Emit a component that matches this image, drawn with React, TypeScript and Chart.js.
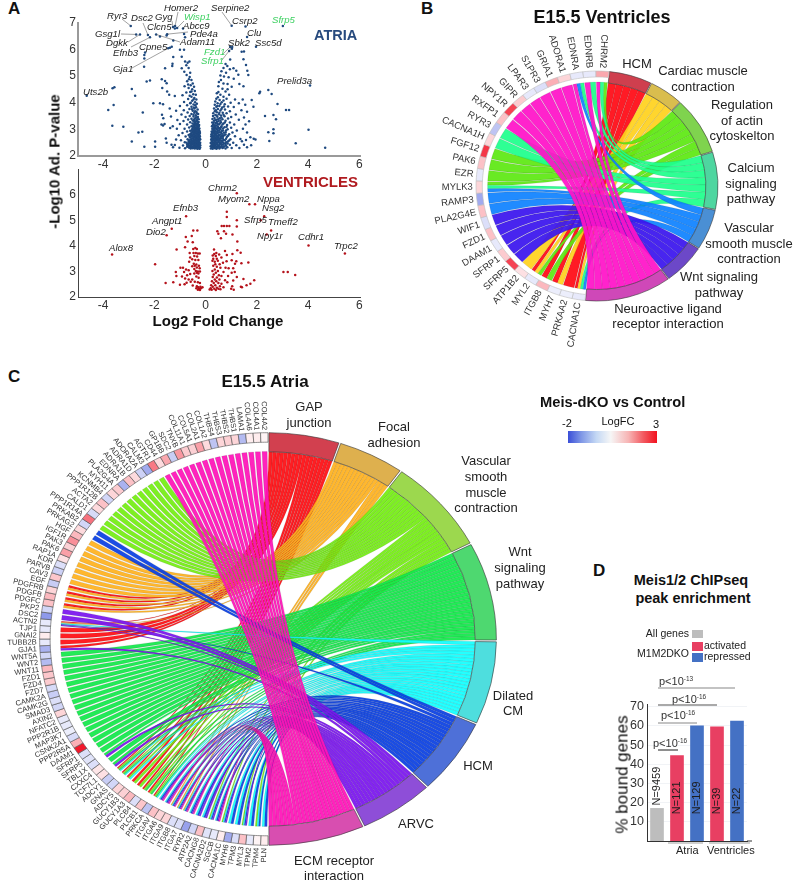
import React, { useEffect, useRef } from 'react';
import { Chart, registerables } from 'chart.js';
Chart.register(...registerables);

type P = [number, number];
const FONT = '"Liberation Sans", Arial, sans-serif';

// ---------- Panel A data ----------
const volcanoXTicks = [-4, -2, 0, 2, 4, 6];
const atriaYTicks = [2, 3, 4, 5, 6, 7];
const ventricleYTicks = [2, 3, 4, 5, 6];

const atriaFarLeft: P[] = [[-3.56,4.58],[-3.63,4.54],[-2.88,4.51],[-2.75,4.26],[-3.59,3.91],[-3.8,3.73],[-3.64,3.13],[-3.21,3.1],[-2.88,2.54],[-2.62,2.88],[-2.47,2.91],[-2.39,2.35],[-1.97,2.35],[-1.97,2.54],[-2.45,3.63],[-2.04,3.98],[-1.78,3.98],[-2.4,5.35],[-2.3,4.79],[-2.17,4.83],[-1.71,4.88],[-1.58,4.81],[-1.52,4.73],[-1.58,5.29],[-1.3,5.38],[-2.39,5.79],[-2.39,5.66],[-2.36,5.88],[-1.78,6.48],[-1.39,6.06],[-1.26,6.33],[-0.84,6.58],[-0.8,6.45],[-1.52,6.52],[-1.0,5.99],[-0.84,5.99],[-1.26,5.71],[-1.29,5.46],[-1.69,4.55],[-1.5,4.42],[-1.42,4.3],[-1.2,4.25],[-1.66,3.94],[-1.7,3.55],[-1.65,3.42],[-1.6,3.2],[-1.72,3.18],[-1.66,3.14],[-1.55,2.66],[-1.52,2.5],[-1.33,2.42],[-1.27,2.33],[-1.2,2.41],[-1.38,3.05],[-1.28,3.12],[-1.35,3.48],[-1.4,3.78],[-1.15,3.7],[-1.1,3.35],[-1.12,3.02],[-1.05,2.78],[-1.15,2.62]];
const atriaFan: P[] = [[-0.93,5.72],[-0.8,5.54],[-0.63,5.54],[-0.93,5.29],[-0.83,5.16],[-0.74,5.04],[-0.7,5.5],[-0.66,5.3],[-0.6,5.12],[-0.75,5.4],[-0.62,4.96],[-0.55,4.85],[-0.72,4.8],[-0.5,4.72],[-0.58,4.65],[-0.45,4.6],[-0.82,4.62],[-0.66,4.55],[-0.52,4.5],[-0.42,4.44],[-0.6,4.4],[-0.75,4.38],[-0.48,4.32],[-0.38,4.3],[-0.9,4.28],[-0.55,4.22],[-0.44,4.18],[-0.68,4.14],[-0.36,4.12],[-0.52,4.07],[-0.41,4.02],[-0.84,4.03],[-0.6,3.98],[-0.34,3.96],[-0.47,3.93],[-0.72,3.9],[-1.0,3.88],[-0.55,3.85],[-0.37,3.83],[-0.43,3.78],[-0.63,3.76],[-0.31,3.74],[-0.85,3.72],[-0.5,3.7],[-0.36,3.66],[-0.7,3.63],[-0.44,3.62],[-0.55,3.58],[-0.29,3.58],[-0.94,3.56],[-0.38,3.53],[-0.62,3.5],[-0.47,3.48],[-0.78,3.46],[-0.3,3.46],[-0.4,3.42],[-0.55,3.4],[-0.27,3.38],[-0.68,3.37],[-0.35,3.34],[-0.46,3.32],[-0.86,3.31],[-0.27,3.28],[-0.6,3.27],[-0.39,3.25],[-0.51,3.22],[-0.31,3.2],[-1.0,3.2],[-0.72,3.18],[-0.44,3.17],[-0.25,3.16],[-0.36,3.13],[-0.55,3.12],[-0.29,3.09],[-0.47,3.07],[-0.64,3.07],[-0.38,3.04],[-0.24,3.03],[-0.82,3.02],[-0.52,3.01],[-0.32,2.99],[-0.43,2.97],[-0.25,2.95],[-0.6,2.95],[-0.36,2.92],[-0.72,2.92],[-0.5,2.9],[-0.28,2.88],[-0.43,2.86],[-0.22,2.86],[-0.9,2.86],[-0.56,2.84],[-0.35,2.83],[-0.25,2.8],[-0.47,2.8],[-0.66,2.79],[-0.39,2.77],[-0.29,2.75],[-0.53,2.75],[-0.22,2.73],[-0.78,2.73],[-0.44,2.71],[-0.34,2.7],[-0.6,2.69],[-0.26,2.68],[-0.49,2.66],[-0.38,2.64],[-0.21,2.63],[-0.7,2.63],[-0.3,2.62],[-0.55,2.6],[-0.44,2.59],[-0.96,2.59],[-0.24,2.58],[-0.35,2.57],[-0.62,2.55],[-0.49,2.54],[-0.28,2.53],[-0.81,2.52],[-0.4,2.51],[-0.21,2.5],[-0.56,2.49],[-0.33,2.48],[-0.46,2.47],[-0.25,2.45],[-0.68,2.45],[-0.37,2.44],[-0.52,2.43],[-0.29,2.41],[-0.42,2.41],[-0.21,2.4],[-0.6,2.39],[-0.88,2.39],[-0.34,2.38],[-0.48,2.37],[-0.25,2.36],[-0.72,2.35],[-0.4,2.34],[-0.55,2.34],[-0.3,2.33],[-0.21,2.32],[-0.45,2.31],[-0.64,2.31],[-0.36,2.3],[-1.02,2.31],[-0.26,2.29],[-0.5,2.29],[-0.8,2.29],[-0.58,2.28],[-0.42,2.28],[-0.32,2.27],[-0.23,2.27]];
const atriaBlobLeft: P[] = [[-0.27,2.31],[-0.33,2.35],[-0.39,2.37],[-0.44,2.33],[-0.5,2.32],[-0.55,2.37],[-0.61,2.34],[-0.67,2.38],[-0.24,2.38],[-0.31,2.43],[-0.36,2.41],[-0.41,2.45],[-0.47,2.42],[-0.53,2.46],[-0.58,2.42],[-0.63,2.47],[-0.72,2.42],[-0.23,2.47],[-0.3,2.5],[-0.35,2.53],[-0.43,2.53],[-0.49,2.5],[-0.54,2.54],[-0.6,2.51],[-0.66,2.53],[-0.74,2.5],[-0.26,2.56],[-0.32,2.59],[-0.38,2.56],[-0.45,2.62],[-0.51,2.58],[-0.59,2.62],[-0.65,2.59],[-0.23,2.66],[-0.29,2.66],[-0.35,2.63],[-0.41,2.68],[-0.46,2.7],[-0.54,2.67],[-0.62,2.72],[-0.25,2.73],[-0.31,2.71],[-0.37,2.74],[-0.42,2.78],[-0.5,2.73],[-0.57,2.77],[-0.24,2.78],[-0.3,2.8],[-0.33,2.77],[-0.38,2.84],[-0.45,2.83],[-0.52,2.81],[-0.6,2.82],[-0.26,2.85],[-0.31,2.87],[-0.41,2.9],[-0.47,2.88],[-0.54,2.88],[-0.23,2.92],[-0.29,2.94],[-0.34,2.9],[-0.39,2.96],[-0.46,2.94],[-0.54,2.96],[-0.27,3.0],[-0.35,3.0],[-0.41,3.02],[-0.49,3.0],[-0.29,3.05],[-0.34,3.07],[-0.42,3.09],[-0.5,3.1],[-0.27,3.12],[-0.32,3.14],[-0.4,3.16],[-0.47,3.15],[-0.3,3.24],[-0.37,3.2],[-0.44,3.24],[-0.34,3.3],[-0.42,3.3],[-0.5,3.33],[-0.32,3.38],[-0.44,3.38],[-0.37,3.45],[-0.47,3.55],[-0.34,3.6],[-0.41,3.68],[-0.53,3.75],[-0.46,3.82],[-0.4,3.9],[-0.58,4.0],[-0.47,4.12],[-0.62,4.26],[-0.55,4.42],[-0.68,4.68],[-0.65,4.88]];
const atriaRightFan: P[] = [[0.96,5.62],[0.78,5.45],[0.85,5.38],[0.7,5.3],[1.09,5.29],[0.95,5.25],[0.62,5.18],[0.8,5.12],[1.2,5.2],[0.58,5.02],[0.72,4.98],[0.9,4.95],[1.1,4.9],[0.6,4.85],[0.52,4.78],[0.7,4.72],[0.86,4.7],[0.5,4.62],[1.02,4.6],[0.66,4.52],[0.78,4.42],[0.44,4.35],[0.58,4.3],[0.92,4.3],[0.48,4.2],[0.7,4.22],[0.42,4.15],[0.82,4.15],[0.55,4.1],[1.15,4.12],[0.38,4.04],[0.63,4.02],[0.47,3.98],[0.98,4.0],[1.3,3.98],[0.75,3.94],[0.36,3.92],[0.54,3.88],[0.42,3.85],[0.88,3.86],[0.65,3.82],[1.1,3.84],[0.33,3.78],[0.48,3.76],[0.76,3.74],[0.58,3.71],[1.4,3.72],[0.36,3.68],[0.95,3.68],[0.44,3.64],[0.67,3.62],[0.3,3.6],[0.82,3.6],[0.52,3.57],[1.18,3.56],[0.38,3.54],[0.6,3.52],[0.29,3.5],[0.74,3.49],[0.46,3.47],[1.0,3.46],[0.35,3.43],[0.55,3.42],[0.88,3.41],[0.27,3.39],[0.66,3.38],[0.42,3.36],[1.3,3.36],[0.33,3.32],[0.78,3.32],[0.5,3.3],[0.6,3.27],[0.26,3.26],[0.95,3.26],[0.4,3.24],[0.7,3.22],[0.3,3.19],[0.52,3.18],[1.12,3.18],[0.84,3.16],[0.43,3.14],[0.25,3.12],[0.62,3.12],[0.34,3.09],[0.74,3.08],[0.5,3.06],[1.0,3.06],[0.27,3.03],[0.41,3.02],[0.58,3.0],[0.86,3.0],[0.32,2.97],[0.68,2.96],[0.47,2.94],[1.22,2.96],[0.24,2.92],[0.38,2.91],[0.55,2.89],[0.78,2.89],[0.3,2.86],[1.05,2.88],[0.44,2.85],[0.63,2.84],[0.23,2.82],[0.36,2.81],[0.92,2.82],[0.52,2.79],[0.28,2.77],[0.72,2.78],[0.42,2.75],[0.22,2.73],[0.6,2.73],[0.33,2.72],[1.15,2.74],[0.83,2.71],[0.48,2.7],[0.26,2.67],[0.38,2.67],[0.67,2.66],[0.55,2.64],[0.22,2.62],[1.36,2.64],[0.97,2.63],[0.31,2.61],[0.44,2.6],[0.75,2.59],[0.6,2.57],[0.24,2.56],[0.36,2.55],[0.5,2.54],[0.87,2.54],[0.28,2.51],[0.68,2.51],[1.42,2.55],[0.41,2.5],[0.2,2.49],[0.56,2.47],[1.08,2.5],[0.33,2.45],[0.78,2.45],[0.46,2.44],[0.24,2.43],[0.62,2.41],[0.95,2.42],[0.37,2.4],[0.29,2.38],[0.52,2.38],[0.2,2.37],[0.72,2.37],[1.2,2.4],[0.42,2.35],[0.58,2.33],[0.32,2.33],[0.85,2.33],[0.24,2.31],[0.47,2.31],[0.66,2.3],[1.02,2.3],[0.37,2.29],[0.21,2.28],[0.54,2.28],[0.28,2.27],[0.78,2.28],[0.43,2.27],[1.32,2.3]];
const atriaBlobRight: P[] = [[0.27,2.33],[0.34,2.36],[0.41,2.32],[0.48,2.36],[0.55,2.33],[0.63,2.36],[0.7,2.32],[0.8,2.38],[0.26,2.39],[0.33,2.41],[0.4,2.44],[0.47,2.4],[0.55,2.43],[0.67,2.43],[0.73,2.47],[0.86,2.47],[0.25,2.47],[0.31,2.49],[0.38,2.52],[0.46,2.5],[0.52,2.52],[0.6,2.49],[0.65,2.56],[0.8,2.52],[0.26,2.55],[0.33,2.58],[0.41,2.57],[0.48,2.6],[0.56,2.58],[0.7,2.6],[0.92,2.58],[0.24,2.63],[0.29,2.65],[0.37,2.61],[0.44,2.67],[0.51,2.64],[0.61,2.66],[0.8,2.65],[0.27,2.71],[0.35,2.69],[0.42,2.71],[0.5,2.74],[0.58,2.7],[0.68,2.72],[0.88,2.76],[0.25,2.78],[0.32,2.77],[0.39,2.79],[0.47,2.77],[0.56,2.8],[0.65,2.78],[0.78,2.81],[0.27,2.84],[0.34,2.86],[0.41,2.83],[0.49,2.87],[0.6,2.88],[0.72,2.87],[0.25,2.9],[0.3,2.93],[0.36,2.95],[0.44,2.92],[0.52,2.96],[0.63,2.94],[0.8,2.96],[0.28,3.0],[0.35,3.02],[0.46,3.0],[0.55,3.04],[0.68,3.03],[0.31,3.06],[0.39,3.08],[0.48,3.1],[0.6,3.08],[0.82,3.1],[0.28,3.14],[0.37,3.15],[0.47,3.2],[0.56,3.22],[0.66,3.18],[0.32,3.25],[0.44,3.28],[0.58,3.33],[0.75,3.26],[0.38,3.35],[0.49,3.38],[0.62,3.44],[0.43,3.52],[0.7,3.55],[0.54,3.62],[0.4,3.72],[0.62,3.76],[0.46,3.88],[0.72,3.86],[0.58,3.95],[0.7,4.08],[0.5,4.4],[0.86,4.5]];
const atriaFarRight: P[] = [[1.41,5.91],[1.48,5.63],[1.58,5.41],[1.63,5.2],[1.67,5.04],[1.28,5.05],[1.32,4.7],[1.48,4.62],[2.1,4.35],[2.13,4.41],[2.45,4.48],[2.58,4.33],[2.81,3.95],[3.14,3.73],[3.26,3.73],[2.32,3.5],[2.65,3.54],[2.75,3.38],[2.65,3.0],[2.65,2.85],[2.45,2.89],[4.02,2.98],[3.52,2.48],[4.67,2.31],[2.49,2.56],[1.87,3.85],[1.8,4.1],[1.45,4.12],[1.55,3.92],[1.62,3.66],[1.5,3.44],[1.7,3.3],[1.56,3.18],[1.46,3.02],[1.62,2.88],[1.75,2.7],[1.88,2.65],[1.58,2.6],[1.5,2.42],[1.78,2.4],[1.62,2.33],[1.95,2.62],[1.03,6.02],[1.5,5.92]];
const atriaGeneNames = ['Ryr3','Dsc2','Homer2','Gyg','Wisp1','Serpine2','Gsg1l','Dgkk','Efnb3','Adam11','Pde4a','Fzd1','Sfrp1','Gja1','Clcn5','Abcc9','Csrp2','Sfrp5','Clu','Sbk2','Ssc5d','Cpne5','Prelid3a','Uts2b'];
const atriaGeneX = [-2.92,-2.25,-1.19,-1.27,-1.11,1.02,-2.71,-2.56,-2.17,-1.93,-1.5,0.96,1.04,-1.46,-1.2,-0.88,1.56,3.02,1.62,0.92,1.97,-1.32,4.08,-4.64];
const atriaGeneY = [6.88,6.54,6.88,6.84,6.8,6.89,6.56,6.56,6.45,6.56,6.57,6.09,6.09,6.04,6.78,6.78,6.86,6.88,6.46,5.94,6.1,6.1,4.64,4.26];
const atriaGeneGreen = ['Wisp1','Fzd1','Sfrp1','Sfrp5'];
const atriaLabelSpots: Record<string, number[]> = {Ryr3:[107,18.5,122,19],Dsc2:[131,21,143,23],Homer2:[164,11,178,12],Gyg:[155,20,172,21],Wisp1:[184,20,184,21],Serpine2:[211,11,222,12],Gsg1l:[95,37,121,34],Dgkk:[106,46,128,42],Efnb3:[113,56,131,47],Adam11:[180,45,180,42],Pde4a:[190,37,188,32],Fzd1:[204,55,222,55],Sfrp1:[201,64,222,60],Gja1:[113,72,132,68],Clcn5:[147,30],Abcc9:[183,29],Csrp2:[232,24],Sfrp5:[272,23],Clu:[247,36],Sbk2:[228,46],Ssc5d:[255,46],Cpne5:[139,50],Prelid3a:[277,84],Uts2b:[83,95]};

const ventricleLeft: P[] = [[-1.97,3.28],[-1.56,2.55],[-1.26,2.58],[-1.16,2.98],[-1.13,3.86],[-0.77,4.35],[-0.7,4.17],[-0.48,4.6],[-0.32,4.6],[-0.54,4.39],[-0.5,4.14],[-0.8,3.95],[-0.62,3.72],[-0.48,3.88],[-0.4,3.92],[-0.34,3.88],[-0.47,3.72],[-0.38,3.72],[-0.3,3.7],[-0.23,3.7],[-0.44,3.6],[-0.6,3.55],[-0.33,3.58],[-0.52,3.48],[-0.4,3.45],[-0.28,3.45],[-0.64,3.38],[-0.46,3.3],[-0.36,3.27],[-0.26,3.22],[-0.42,3.22],[-0.52,3.2],[-0.34,3.15],[-0.23,3.12],[-0.44,3.1],[-0.98,3.14],[-0.88,3.14],[-1.14,2.82],[-0.76,3.08],[-0.66,3.05],[-0.84,2.98],[-0.38,3.02],[-0.3,3.0],[-0.22,3.0],[-0.34,2.95],[-0.44,2.92],[-0.28,2.92],[-0.6,2.9],[-0.72,2.85],[-0.92,2.8],[-0.8,2.72],[-0.66,2.68],[-0.36,2.8],[-0.27,2.75],[-0.52,2.68],[-0.58,2.6],[-0.74,2.56],[-0.82,2.5],[-1.0,2.48],[-0.42,2.6],[-0.3,2.58],[-0.22,2.55],[-0.5,2.45],[-0.34,2.42],[-0.28,2.38],[-0.2,2.4],[-0.12,2.38],[-0.36,2.34],[-0.26,2.32],[-0.18,2.34],[-0.3,2.28],[-0.22,2.27]];
const ventricleRight: P[] = [[0.83,5.34],[0.83,5.13],[0.63,4.78],[0.72,4.78],[0.83,4.78],[0.93,4.78],[1.22,5.0],[1.22,4.76],[0.46,4.57],[0.5,4.47],[0.72,4.57],[0.8,4.47],[0.6,4.3],[1.05,4.45],[1.24,4.17],[1.24,3.83],[1.37,3.73],[0.33,3.86],[0.76,3.8],[1.05,3.68],[0.83,3.64],[0.42,3.72],[0.34,3.68],[0.28,3.62],[0.4,3.6],[0.53,3.66],[0.62,3.55],[0.3,3.5],[0.44,3.5],[0.27,3.42],[0.36,3.38],[0.48,3.42],[0.82,3.4],[1.02,3.44],[1.2,3.4],[0.68,3.34],[0.55,3.28],[0.38,3.28],[0.3,3.22],[0.44,3.18],[0.58,3.14],[0.78,3.14],[0.9,3.12],[1.08,3.12],[0.36,3.08],[0.27,3.02],[0.48,3.02],[0.7,2.98],[0.4,2.95],[1.14,2.98],[1.02,2.95],[0.32,2.88],[0.52,2.85],[0.62,2.82],[0.28,2.78],[0.44,2.76],[0.88,2.82],[1.22,2.78],[1.48,2.7],[0.36,2.68],[0.54,2.68],[0.25,2.62],[0.42,2.62],[0.76,2.66],[1.08,2.65],[1.75,2.52],[1.9,2.66],[0.32,2.55],[0.5,2.55],[0.62,2.52],[0.85,2.58],[1.6,2.46],[1.42,2.38],[1.38,2.4],[0.22,2.46],[0.38,2.46],[0.56,2.42],[0.7,2.38],[1.04,2.42],[0.28,2.4],[0.44,2.36],[1.0,2.32],[1.1,2.28],[0.2,2.34],[0.34,2.32],[0.5,2.32],[0.24,2.28],[0.4,2.27],[0.16,2.29],[0.58,2.3],[3.04,2.98],[3.21,2.98],[3.5,2.86],[1.67,3.35],[1.4,3.32],[1.15,3.3]];
const ventricleGeneNames = ['Chrm2','Myom2','Nppa','Nsg2','Efnb3','Angpt1','Sfrp5','Tmeff2','Dio2','Npy1r','Cdhr1','Alox8','Trpc2'];
const ventricleGeneX = [1.22,1.71,1.93,2.29,-0.76,-1.32,2.15,2.56,-1.52,2.39,4.02,-3.65,5.44];
const ventricleGeneY = [6.06,5.63,5.63,5.16,5.16,4.67,5.0,4.6,4.42,4.45,4.01,3.66,3.7];
const ventricleLabelSpots: Record<string, number[]> = {Chrm2:[208,30.7],Myom2:[218,42],Nppa:[257,42],Nsg2:[262,50.7],Efnb3:[173,50.7],Angpt1:[152,64],Sfrp5:[244,63],Tmeff2:[268,65],Dio2:[146,75],Npy1r:[257,79],Cdhr1:[298,80],Alox8:[109,91],Trpc2:[334,89]};

// ---------- Panel B data ----------
const bGenes = ['CHRM2','EDNRB','EDNRA','ADORA1','GRIA1','S1PR3','LPAR3','GIPR','NPY1R','RXFP1','RYR3','CACNA1H','FGF12','PAK6','EZR','MYLK3','RAMP3','PLA2G4E','WIF1','FZD1','DAAM1','SFRP1','SFRP5','ATP1B2','MYL2','ITGB8','MYH7','PRKAA2','CACNA1C'];
const bLogFC = [0.8,-0.2,-0.2,0.3,0.7,-0.3,-0.2,0.4,2.2,0.5,-0.6,0.3,2.4,0.5,-0.2,0.3,-0.9,0.5,-0.3,0.5,-0.2,0.4,2.2,0.2,-0.2,0.6,-0.15,-0.15,-0.2];
const bPathways = ['HCM','Cardiac muscle contraction','Regulation of actin cytoskelton','Calcium signaling pathway','Vascular smooth muscle contraction','Wnt signaling pathway','Neuroactive ligand receptor interaction'];
const bLinks: string[][] = [
  ['MYL2','ITGB8','MYH7','PRKAA2','CACNA1C'],
  ['ATP1B2','MYL2','MYH7','CACNA1C'],
  ['CHRM2','FGF12','PAK6','EZR','MYLK3','MYL2','ITGB8'],
  ['CHRM2','EDNRB','EDNRA','RYR3','CACNA1H','MYLK3','CACNA1C'],
  ['EDNRA','MYLK3','RAMP3','PLA2G4E','CACNA1C'],
  ['WIF1','FZD1','DAAM1','SFRP1','SFRP5'],
  ['CHRM2','EDNRB','EDNRA','ADORA1','GRIA1','S1PR3','LPAR3','GIPR','NPY1R','RXFP1'],
];
const bRibbonColors = ['#ff0a14','#ffd21e','#5ee812','#1eff8c','#0f82ff','#3a14ee','#ff12c8'];
const bBandColors = ['#cf3f4e','#d9bd4e','#7fd34e','#4ed6a0','#4a8fd4','#6c48c8','#cf48b8'];
const bLabelLines = [['HCM'],['Cardiac muscle','contraction'],['Regulation','of actin','cytoskelton'],['Calcium','signaling','pathway'],['Vascular','smooth muscle','contraction'],['Wnt signaling','pathway'],['Neuroactive ligand','receptor interaction']];
const bLabelSpots = [[237,68,16],[303,75,16],[342,109,15.5],[351,172,15.5],[349,232,15.5],[319,281,15.5],[268,313,15]];

// ---------- Panel C data ----------
const cGenes = ['COL4A2','COL4A1','COL4A6','LAMA1','THBS1','THBS2','THBS3','THBS4','COL1A2','COL2A1','COL5A1','COL11A1','TNXB','SDC2','GP1BB','CD44','AGTR1','CALM3','ADORA2A','ADRA1D','ADRA1B','EDNRA','PLA2G4A','MYH11','KCNMB4','PPP1R12B','ACTA2','CALD1','PPP1R14A','PRKAB2','PRKAG2','HGF','IGF1R','PAK3','PAK6','RAP1A','KDR','PARVB','CAV3','EGF','PDGFRB','PDGFB','PDGFC','PKP2','DSC2','ACTN2','TJP1','GNAI2','TUBB2B','GJA1','WNT5A','WNT2','WNT11','FZD1','FZD4','FZD7','CAMK2A','CAMK2G','SMAD3','AXIN2','NFATC2','PPP2R1B','MAP3K7','CSNK2A1','PPP2R5A','DAAM1','SFRP1','SFRP5','TBL1X','CXXC4','TCF7L1','ADCY1','GNAS','ADCY5','GUCY1B3','GUCY1A3','PLCB4','PLCB1','PRKCA','ITGAV','ITGA6','ITGA9','ITGB8','ITGA7','RYR2','ATP2A2','CACNG8','CACNA2D2','SGCB','CACNA1C','MYH6','TPM3','MYL3','TPM2','TPM4','PLN'];
const cLogFC = [0.05,0.1,0.1,-0.7,0.3,0.35,0.3,-0.6,0.25,0.9,0.35,0.4,1.0,-0.5,0.8,0.25,1.4,-0.9,-0.45,0.25,0.5,-0.8,0.4,0.3,-0.4,0.5,0.25,-0.35,1.5,-0.4,0.25,0.6,1.1,0.35,0.9,0.2,-0.3,-0.45,0.45,-0.5,0.3,0.6,0.5,-0.4,-1.1,-0.2,-0.2,0.1,-0.2,-0.8,-0.4,-0.7,0.6,0.45,0.4,-0.35,-0.5,-0.3,-0.4,0.3,-0.2,-0.2,-0.15,-0.35,0.7,2.9,-0.3,-0.25,-0.3,0.15,0.2,-0.5,-0.4,0.3,0.35,0.6,-0.3,0.45,-0.6,0.5,0.3,0.3,-0.3,-0.3,-1.0,-0.4,0.5,-0.25,-0.2,0.1,-0.9,-0.3,0.5,-0.2,0.05,0.1];
const cPathways = ['GAP junction','Focal adhesion','Vascular smooth muscle contraction','Wnt signaling pathway','Dilated CM','HCM','ARVC','ECM receptor interaction'];
const cLinks: string[][] = [
  ['EGF','PDGFRB','PDGFB','PDGFC','ACTN2','TJP1','GNAI2','TUBB2B','GJA1','ADCY1','GNAS','ADCY5','GUCY1B3','GUCY1A3','PLCB4','PLCB1','PRKCA'],
  ['HGF','IGF1R','PAK3','PAK6','RAP1A','KDR','PARVB','CAV3','EGF','PDGFRB','PDGFB','PDGFC','ACTN2','ITGA9','ITGB8','ITGA7'],
  ['AGTR1','CALM3','ADORA2A','ADRA1D','ADRA1B','EDNRA','PLA2G4A','MYH11','KCNMB4','PPP1R12B','ACTA2','CALD1','PPP1R14A','ADCY1','GNAS','ADCY5','GUCY1B3','GUCY1A3','PLCB4','PLCB1','PRKCA','CACNA2D2','CACNA1C','MYL3','TPM4'],
  ['WNT5A','WNT2','WNT11','FZD1','FZD4','FZD7','CAMK2A','CAMK2G','SMAD3','AXIN2','NFATC2','PPP2R1B','MAP3K7','CSNK2A1','PPP2R5A','DAAM1','SFRP1','SFRP5','TBL1X','CXXC4','TCF7L1','ADCY1','GNAS','PLCB4','PLCB1','PRKCA'],
  ['ACTN2','ADCY1','GNAS','ADCY5','PRKCA','ITGAV','ITGA6','ITGA9','ITGB8','ITGA7','RYR2','ATP2A2','CACNG8','CACNA2D2','SGCB','CACNA1C','MYH6','TPM3','MYL3','TPM2','TPM4','PLN'],
  ['PRKAB2','PRKAG2','ACTN2','ITGAV','ITGA6','ITGA9','ITGB8','ITGA7','RYR2','ATP2A2','CACNG8','CACNA2D2','SGCB','CACNA1C','MYH6','TPM3','MYL3','TPM2','TPM4','PLN'],
  ['PKP2','DSC2','ACTN2','GJA1','TBL1X','TCF7L1','ITGAV','ITGA6','ITGA9','ITGB8','ITGA7','RYR2','ATP2A2','CACNG8','CACNA2D2','SGCB','CACNA1C','MYL3'],
  ['COL4A2','COL4A1','COL4A6','LAMA1','THBS1','THBS2','THBS3','THBS4','COL1A2','COL2A1','COL5A1','COL11A1','TNXB','SDC2','GP1BB','CD44','ITGAV','ITGA6','ITGA9','ITGB8','ITGA7','RYR2','SGCB'],
];
const cRibbonColors = ['#ff0d12','#ffb21e','#74ee12','#12e84a','#12ffff','#0a3fe2','#7a14ee','#ff12b8'];
const cBandColors = ['#d2404f','#deb04e','#9cd84e','#4ed870','#4edede','#4e70d8','#8e4ed8','#d84eb0'];
const cLabelLines = [['GAP','junction'],['Focal','adhesion'],['Vascular','smooth','muscle','contraction'],['Wnt','signaling','pathway'],['Dilated','CM'],['HCM'],['ARVC'],['ECM receptor','interaction']];
const cLabelSpots = [[309,16,16],[394,36,15.5],[486,70,15.8],[520,161,16],[513,305,15],[478,375,0],[416,433,0],[334,470,15]];

// ---------- Panel D data ----------
const dCategories = ['All genes','Atria activated','Atria repressed','Ventricles activated','Ventricles repressed'];
const dValues = [17,44.5,60,59.5,62.5];
const dCounts = ['N=9459','N=121','N=129','N=39','N=22'];
const dColors = ['#bdbdbd','#e83f62','#4471c4','#e83f62','#4471c4'];
const dYTicks = [10,20,30,40,50,60,70];
const dPValues = [['p<10','-13',69,70,658,735,73,'#888'],['p<10','-16',82,88,658,717,90,'#555'],['p<10','-16',71,104,658,697,108,'#888'],['p<10','-16',63,132,658,678,135,'#444']];

// ---------- helpers ----------
function fcColor(v: number) {
  const blue = [62, 80, 220], red = [242, 18, 38];
  const t = v < 0 ? Math.min(1, -v / 2) : Math.min(1, v / 3);
  const c = v < 0 ? blue : red;
  const k = Math.pow(t, v < 0 ? 0.9 : 0.75);
  const m = (i: number) => Math.round(255 + (c[i] - 255) * k);
  return `rgb(${m(0)},${m(1)},${m(2)})`;
}

function volcanoConfig(o: any) {
  const pts = (a: P[]) => a.map(([x, y]) => ({ x, y }));
  return {
    type: 'scatter',
    data: { datasets: [{ data: pts(o.points), backgroundColor: o.color, borderWidth: 0, pointRadius: 1.25 },
      { data: o.names.map((_: string, i: number) => ({ x: o.gx[i], y: o.gy[i] })), backgroundColor: o.color, borderWidth: 0, pointRadius: 1.25 }] },
    plugins: [{
      id: 'geneLabels',
      afterDatasetsDraw(chart: any) {
        const { ctx, scales } = chart;
        ctx.save();
        ctx.font = `italic 9.6px ${FONT}`;
        ctx.textBaseline = 'alphabetic';
        o.names.forEach((n: string, i: number) => {
          const s = o.spots[n];
          if (s.length > 2) {
            ctx.strokeStyle = '#444'; ctx.lineWidth = 0.5;
            ctx.beginPath(); ctx.moveTo(s[2], s[3]);
            ctx.lineTo(scales.x.getPixelForValue(o.gx[i]), scales.y.getPixelForValue(o.gy[i])); ctx.stroke();
          }
          ctx.fillStyle = (o.green || []).includes(n) ? '#3ed162' : '#1c1c1c';
          ctx.fillText(n, s[0], s[1]);
        });
        ctx.restore();
      },
    }],
    options: {
      animation: false, responsive: false, maintainAspectRatio: false,
      layout: { padding: { top: o.top, right: o.right } },
      plugins: { legend: { display: false }, tooltip: { enabled: false } },
      scales: {
        x: { type: 'linear', min: -4.98, max: 6.03, grid: { display: false, drawTicks: false },
          border: { color: o.axis, width: o.axisWidth },
          afterBuildTicks: (s: any) => { s.ticks = volcanoXTicks.map((value) => ({ value })); },
          afterFit: (s: any) => { s.height = o.xh; },
          ticks: { padding: 1, color: '#333', font: { family: FONT, size: 12 }, maxRotation: 0, autoSkip: false } },
        y: { type: 'linear', min: 2, max: 7, grid: { display: false, drawTicks: false },
          border: { color: o.axis, width: o.axisWidth },
          afterBuildTicks: (s: any) => { s.ticks = o.yticks.map((value: number) => ({ value })); },
          afterFit: (s: any) => { s.width = 78; },
          ticks: { padding: 2, color: '#333', font: { family: FONT, size: 12 }, autoSkip: false } },
      },
    },
  };
}

function chordConfig(o: any) {
  const G: string[] = o.genes;
  const links: string[][] = o.links;
  const np = links.length;
  const totalLinks = links.reduce((s, l) => s + l.length, 0);
  const unit = totalLinks / G.length;
  const values = [...links.map((l) => l.length), ...G.map(() => unit).reverse()];
  const bg = [...o.bands, ...G.map((_, i) => fcColor(o.fc[i])).reverse()];
  const border = [...o.bands.map(() => '#3a3a3a'), ...G.map(() => o.cellBorder)];
  const geneEl = (i: number) => np + G.length - 1 - i;
  return {
    type: 'doughnut',
    data: { labels: [...o.pathways, ...[...G].reverse()], datasets: [{ data: values, backgroundColor: bg, borderColor: border, borderWidth: 0.6, spacing: o.spacing }] },
    plugins: [{
      id: 'chordRibbons',
      afterDatasetsUpdate(chart: any) {
        chart.getDatasetMeta(0).data.forEach((arc: any, i: number) => {
          arc.outerRadius = o.R;
          arc.innerRadius = i < np ? o.rBand : o.rCell;
          if (i < np) {
            arc.startAngle += o.bandGap;
            arc.endAngle -= o.bandGap;
            arc.circumference = arc.endAngle - arc.startAngle;
          }
        });
      },
      beforeDatasetsDraw(chart: any) {
        const { ctx } = chart;
        const arcs = chart.getDatasetMeta(0).data;
        const cx = arcs[0].x, cy = arcs[0].y;
        ctx.save();
        ctx.translate(cx, cy); ctx.scale(o.sx, 1); ctx.translate(-cx, -cy);
        const perGene: Record<string, number[]> = {};
        links.forEach((l, p) => l.forEach((g) => { (perGene[g] = perGene[g] || []).push(p); }));
        links.forEach((l, p) => {
          const band = arcs[p];
          const sorted = [...l].sort((a, b) => G.indexOf(a) - G.indexOf(b));
          const w = (band.endAngle - band.startAngle) / sorted.length;
          sorted.forEach((g, k) => {
            const cell = arcs[geneEl(G.indexOf(g))];
            const span = cell.endAngle - cell.startAngle;
            const pad = span * o.genePad;
            const slots = perGene[g];
            const sw = (span - 2 * pad) / slots.length;
            const si = slots.indexOf(p);
            const a0 = cell.endAngle - pad - si * sw, a1 = a0 - sw;
            const b0 = band.startAngle + k * w, b1 = b0 + w;
            ctx.beginPath();
            ctx.moveTo(cx + o.rGene * Math.cos(a0), cy + o.rGene * Math.sin(a0));
            ctx.arc(cx, cy, o.rGene, a0, a1, true);
            ctx.quadraticCurveTo(cx, cy, cx + o.rBand * Math.cos(b1), cy + o.rBand * Math.sin(b1));
            ctx.arc(cx, cy, o.rBand, b1, b0, true);
            ctx.quadraticCurveTo(cx, cy, cx + o.rGene * Math.cos(a0), cy + o.rGene * Math.sin(a0));
            ctx.closePath();
            ctx.globalAlpha = 0.93;
            ctx.fillStyle = o.ribbons[p];
            ctx.fill();
            ctx.globalAlpha = 1;
            ctx.strokeStyle = 'rgba(40,40,40,0.28)';
            ctx.lineWidth = 0.35;
            ctx.stroke();
          });
        });
      },
      afterDatasetsDraw(chart: any) {
        const { ctx } = chart;
        ctx.restore();
        const arcs = chart.getDatasetMeta(0).data;
        const cx = arcs[0].x, cy = arcs[0].y;
        ctx.save();
        ctx.fillStyle = o.geneColor;
        ctx.font = `${o.geneFont}px ${FONT}`;
        ctx.textAlign = 'right'; ctx.textBaseline = 'middle';
        G.forEach((g, i) => {
          const c = arcs[geneEl(i)];
          const a = (c.startAngle + c.endAngle) / 2;
          const px = cx + (o.R + o.geneGap) * o.sx * Math.cos(a), py = cy + (o.R + o.geneGap) * Math.sin(a);
          ctx.save();
          ctx.translate(px, py);
          ctx.rotate(Math.atan2(Math.sin(a), o.sx * Math.cos(a)) - Math.PI);
          ctx.fillText(g, 0, 0);
          ctx.restore();
        });
        ctx.fillStyle = '#222';
        ctx.font = `${o.bandFont}px ${FONT}`;
        ctx.textAlign = 'center'; ctx.textBaseline = 'alphabetic';
        o.labelLines.forEach((lines: string[], i: number) => {
          const [x, y, lh] = o.labelSpots[i];
          lines.forEach((t, k) => ctx.fillText(t, x, y + k * lh));
        });
        ctx.restore();
      },
    }],
    options: {
      animation: false, responsive: false, maintainAspectRatio: false,
      rotation: o.rotation, cutout: '50%',
      layout: { padding: { right: o.paddingRight } },
      plugins: { legend: { display: false }, tooltip: { enabled: false } },
    },
  };
}

function barConfig() {
  return {
    type: 'bar',
    data: { labels: dCategories, datasets: [{ data: dValues, backgroundColor: dColors, barThickness: 13, borderWidth: 0 }] },
    plugins: [{
      id: 'barNotes',
      afterDatasetsDraw(chart: any) {
        const { ctx, scales, chartArea } = chart;
        ctx.save();
        ctx.strokeStyle = '#333'; ctx.lineWidth = 1;
        ctx.beginPath(); ctx.moveTo(chartArea.right, chartArea.bottom); ctx.lineTo(chartArea.right + 5, chartArea.bottom); ctx.stroke();
        ctx.font = `11px ${FONT}`; ctx.fillStyle = '#1c1c1c'; ctx.textBaseline = 'middle'; ctx.textAlign = 'left';
        dCounts.forEach((t, i) => {
          ctx.save();
          ctx.translate(scales.x.getPixelForValue(i), scales.y.getPixelForValue(i === 0 ? dValues[0] + 1.5 : 14));
          ctx.rotate(-Math.PI / 2);
          ctx.fillText(t, 0, 0);
          ctx.restore();
        });
        ctx.textBaseline = 'alphabetic'; ctx.fillStyle = '#222'; ctx.font = `10.5px ${FONT}`;
        ctx.textAlign = 'right';
        ctx.fillText('All genes', 99, 22); ctx.fillText('M1M2DKO', 99, 42);
        ctx.textAlign = 'left';
        ctx.fillText('activated', 114, 34); ctx.fillText('repressed', 114, 45);
        ctx.fillStyle = dColors[0]; ctx.fillRect(102, 15, 11, 8);
        ctx.fillStyle = dColors[1]; ctx.fillRect(102, 27, 11, 9);
        ctx.fillStyle = dColors[2]; ctx.fillRect(102, 38, 11, 9);
        dPValues.forEach((p: any[]) => {
          ctx.fillStyle = '#333'; ctx.font = `11px ${FONT}`;
          ctx.fillText(p[0], p[2], p[3]);
          const w = ctx.measureText(p[0]).width;
          ctx.font = `6.5px ${FONT}`;
          ctx.fillText(p[1], p[2] + w, p[3] - 4);
          ctx.strokeStyle = p[7]; ctx.lineWidth = 1.2;
          ctx.beginPath(); ctx.moveTo(p[4] - 590, p[6]); ctx.lineTo(p[5] - 590, p[6]); ctx.stroke();
        });
        ctx.strokeStyle = '#888'; ctx.lineWidth = 0.8;
        ctx.beginPath(); ctx.moveTo(78, 228); ctx.lineTo(113, 228); ctx.moveTo(119, 228); ctx.lineTo(160, 228); ctx.stroke();
        ctx.fillStyle = '#222'; ctx.font = `11px ${FONT}`;
        ctx.fillText('Atria', 86, 239); ctx.fillText('Ventricles', 117, 239);
        ctx.restore();
      },
    }],
    options: {
      animation: false, responsive: false, maintainAspectRatio: false,
      layout: { padding: { top: 89, right: 47 } },
      plugins: { legend: { display: false }, tooltip: { enabled: false } },
      scales: {
        x: { grid: { display: false, drawTicks: false }, border: { color: '#333', width: 1 }, ticks: { display: false }, afterFit: (s: any) => { s.height = 24; } },
        y: { min: 0, max: 71.4, grid: { color: '#f1f3f6', drawTicks: false }, border: { color: '#333', width: 1 },
          afterBuildTicks: (s: any) => { s.ticks = dYTicks.map((value) => ({ value })); },
          afterFit: (s: any) => { s.width = 57; },
          ticks: { padding: 3, color: '#333', font: { family: FONT, size: 12.5 } } },
      },
    },
  };
}

function ChartCanvas({ left, top, width, height, make }: any) {
  const ref = useRef<HTMLCanvasElement>(null);
  useEffect(() => {
    const chart = new Chart(ref.current as any, make());
    return () => chart.destroy();
  }, []);
  return <canvas ref={ref} width={width} height={height} style={{ position: 'absolute', left, top, width, height }} />;
}

function Txt({ x, y, size, bold, color, center, rotate, children }: any) {
  const style: any = { position: 'absolute', left: x, top: y - 0.8465 * size, fontSize: size, lineHeight: `${size}px`, fontWeight: bold ? 700 : 400, color: color || '#111', whiteSpace: 'nowrap', fontFamily: FONT };
  if (center) style.transform = 'translateX(-50%)';
  if (rotate) { style.top = y - size / 2; style.transform = 'translateX(-50%) rotate(-90deg)'; }
  return <div style={style}>{children}</div>;
}

export default function App() {
  return (
    <div style={{ position: 'absolute', left: 0, top: 0, width: 794, height: 883, background: '#fff', overflow: 'hidden', fontFamily: FONT }}>
      <Txt x={8} y={14} size={17} bold>A</Txt>
      <Txt x={421} y={14} size={17} bold>B</Txt>
      <Txt x={8} y={382} size={17} bold>C</Txt>
      <Txt x={593} y={576} size={17} bold>D</Txt>

      <ChartCanvas left={0} top={0} width={380} height={172} make={() => volcanoConfig({ points: [...atriaFarLeft, ...atriaFan, ...atriaBlobLeft, ...atriaRightFan, ...atriaBlobRight, ...atriaFarRight], color: '#1f4a80', names: atriaGeneNames, gx: atriaGeneX, gy: atriaGeneY, spots: atriaLabelSpots, green: atriaGeneGreen, top: 22.7, right: 20, xh: 16, axis: '#9a9a9a', axisWidth: 2, yticks: atriaYTicks })} />
      <ChartCanvas left={0} top={160} width={380} height={155} make={() => volcanoConfig({ points: [...ventricleLeft, ...ventricleRight], color: '#b5121b', names: ventricleGeneNames, gx: ventricleGeneX, gy: ventricleGeneY, spots: ventricleLabelSpots, top: 3, right: 20, xh: 18, axis: '#444', axisWidth: 1, yticks: ventricleYTicks })} />
      <Txt x={314} y={40} size={14.5} bold color="#274a7e">ATRIA</Txt>
      <Txt x={263} y={187} size={15} bold color="#b01a1f">VENTRICLES</Txt>
      <Txt x={54} y={161} size={15} bold rotate>-Log10 Ad. P-value</Txt>
      <Txt x={218} y={326} size={15} bold center>Log2 Fold Change</Txt>

      <ChartCanvas left={400} top={0} width={394} height={372} make={() => chordConfig({ genes: bGenes, fc: bLogFC, pathways: bPathways, links: bLinks, ribbons: bRibbonColors, bands: bBandColors, labelLines: bLabelLines, labelSpots: bLabelSpots, rotation: 5.7, R: 115, rBand: 103.5, rCell: 109, rGene: 104, sx: 1.052, genePad: 0.03, cellBorder: '#bdbdbd', spacing: 0, bandGap: 0.004, geneFont: 9.5, geneColor: '#333', geneGap: 3, bandFont: 13, paddingRight: 0 })} />
      <Txt x={602} y={23} size={18} bold center>E15.5 Ventricles</Txt>

      <ChartCanvas left={0} top={395} width={560} height={488} make={() => chordConfig({ genes: cGenes, fc: cLogFC, pathways: cPathways, links: cLinks, ribbons: cRibbonColors, bands: cBandColors, labelLines: cLabelLines, labelSpots: cLabelSpots, rotation: 0, R: 206, rBand: 187, rCell: 196.5, rGene: 187.5, sx: 1.107, genePad: 0.12, cellBorder: '#555', spacing: 0.6, bandGap: 0.004, geneFont: 7.5, geneColor: '#333', geneGap: 3, bandFont: 13, paddingRight: 24 })} />
      <Txt x={265} y={387} size={17} bold center>E15.5 Atria</Txt>

      <Txt x={540} y={407} size={14.7} bold>Meis-dKO vs Control</Txt>
      <Txt x={567} y={427} size={11} center>-2</Txt>
      <Txt x={618} y={425} size={11} center>LogFC</Txt>
      <Txt x={656} y={428} size={11} center>3</Txt>
      <div style={{ position: 'absolute', left: 568, top: 431, width: 89, height: 12, background: 'linear-gradient(90deg,#3a4fd8 0%,#7f97e6 15%,#c4d8f4 32%,#f6f6f6 48%,#f7b4b4 68%,#f2585f 85%,#f2121f 100%)' }} />

      <Txt x={691} y={585} size={14.5} bold center>Meis1/2 ChIPseq</Txt>
      <Txt x={693} y={603} size={14.5} bold center>peak enrichment</Txt>
      <ChartCanvas left={590} top={615} width={204} height={250} make={barConfig} />
      <Txt x={622} y={774} size={17} rotate>% bound genes</Txt>
    </div>
  );
}
